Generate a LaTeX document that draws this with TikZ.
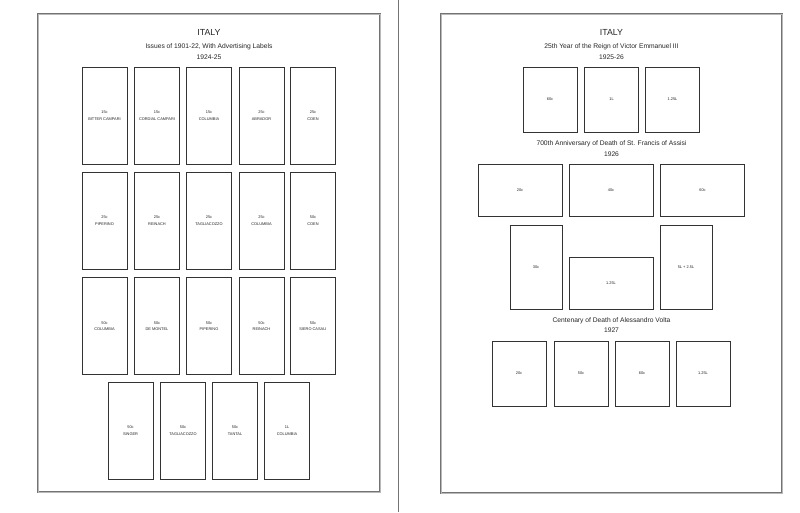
\documentclass[tikz,border=0pt]{standalone}
\usepackage{fontspec}
\setmainfont{Liberation Sans}
\definecolor{framegray}{gray}{0.45}
\definecolor{framelight}{gray}{0.72}
\definecolor{stampline}{gray}{0.2}
\definecolor{textgray}{gray}{0.15}
\begin{document}
\begin{tikzpicture}[x=1pt,y=-1pt,
  pageframe/.style={draw=framegray, line width=0.8pt, double=framelight, double distance=0.9pt},
  heading/.style={inner sep=0pt, text=textgray, font=\fontsize{8.8}{10}\selectfont},
  subhead/.style={inner sep=0pt, text=textgray, font=\fontsize{6.7}{7.5}\selectfont},
  stamp/.style={draw=stampline, line width=0.95pt, inner sep=0pt, align=center, text=textgray,
    font=\fontsize{3.9}{6.5}\selectfont},
  tall/.style={stamp, minimum width=45pt, minimum height=97pt},
  jubilee/.style={stamp, minimum width=54pt, minimum height=65pt},
  wide/.style={stamp, minimum width=84pt, minimum height=52pt},
  upright/.style={stamp, minimum width=52pt, minimum height=84pt}]

\useasboundingbox[fill=white] (0,0) rectangle (800,512);

% the two album pages
\draw[pageframe] (38,14) rectangle (380,492);
\draw[pageframe] (441,14) rectangle (782,493);
\draw[framegray, line width=0.9pt] (398,0) -- (398,512);

% left page
\node[heading] (ltitle) at (209,32) {ITALY};
\node[subhead] (lsub) at (209,47) {Issues of 1901-22, With Advertising Labels};
\node[subhead] (lyear) at (209,57) {1924-25};

\node[tall] (bitter) at (104.5,115.5) {15c\\BITTER CAMPARI};
\node[tall] (cordial) at (157,115.5) {15c\\CORDIAL CAMPARI};
\node[tall] (columbiaA) at (209,115.5) {15c\\COLUMBIA};
\node[tall] (abrador) at (261.5,115.5) {25c\\ABRADOR};
\node[tall] (coenA) at (313,115.5) {25c\\COEN};

\node[tall] (piperinoA) at (104.5,220.5) {25c\\PIPERINO};
\node[tall] (reinachA) at (157,220.5) {25c\\REINACH};
\node[tall] (tagliaA) at (209,220.5) {25c\\TAGLIACOZZO};
\node[tall] (columbiaB) at (261.5,220.5) {25c\\COLUMBIA};
\node[tall] (coenB) at (313,220.5) {50c\\COEN};

\node[tall] (columbiaC) at (104.5,326) {50c\\COLUMBIA};
\node[tall] (montel) at (157,326) {50c\\DE MONTEL};
\node[tall] (piperinoB) at (209,326) {50c\\PIPERINO};
\node[tall] (reinachB) at (261.5,326) {50c\\REINACH};
\node[tall] (siero) at (313,326) {50c\\SIERO CASALI};

\node[tall] (singer) at (130.5,430.5) {50c\\SINGER};
\node[tall] (tagliaB) at (183,430.5) {50c\\TAGLIACOZZO};
\node[tall] (tantal) at (235,430.5) {50c\\TANTAL};
\node[tall] (columbiaD) at (287,430.5) {1L\\COLUMBIA};

% right page
\node[heading] (rtitle) at (611.5,32) {ITALY};
\node[subhead] (rsub) at (611.5,47) {25th Year of the Reign of Victor Emmanuel III};
\node[subhead] (ryear) at (611.5,57) {1925-26};

\node[jubilee] (jub60) at (550,99.5) {60c};
\node[jubilee] (jub1) at (611.5,99.5) {1L};
\node[jubilee] (jub125) at (672.5,99.5) {1.25L};

\node[subhead] (fsub) at (611.5,144) {700th Anniversary of Death of St. Francis of Assisi};
\node[subhead] (fyear) at (611.5,154) {1926};

\node[wide] (fra20) at (520,190) {20c};
\node[wide] (fra40) at (611,190) {40c};
\node[wide] (fra60) at (702.5,190) {60c};
\node[upright] (fra30) at (536,267) {30c};
\node[wide] (fra125) at (611,283) {1.25L};
\node[upright] (fra5) at (686,267) {5L + 2.5L};

\node[subhead] (vsub) at (611.5,321) {Centenary of Death of Alessandro Volta};
\node[subhead] (vyear) at (611.5,330.5) {1927};

\node[jubilee] (vol20) at (519,373.5) {20c};
\node[jubilee] (vol50) at (581,373.5) {50c};
\node[jubilee] (vol60) at (642,373.5) {60c};
\node[jubilee] (vol125) at (703,373.5) {1.25L};
\end{tikzpicture}
\end{document}
